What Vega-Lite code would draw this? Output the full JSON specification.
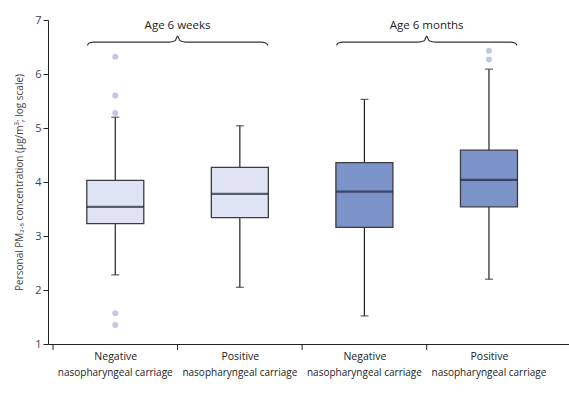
{
  "$schema": "https://vega.github.io/schema/vega-lite/v6.json",
  "width": 521,
  "height": 324,
  "autosize": {"type": "none"},
  "padding": {"left": 48, "top": 20, "right": 0, "bottom": 50},
  "config": {"view": {"stroke": null}, "font": "Open Sans"},
  "datasets": {
    "boxes": [
      {"pos": 1, "age": "6w", "lower": 2.28, "q1": 3.23, "median": 3.54, "q3": 4.03, "upper": 5.2, "line2": "nasopharyngeal carriage"},
      {"pos": 2, "age": "6w", "lower": 2.05, "q1": 3.34, "median": 3.78, "q3": 4.27, "upper": 5.04, "line2": "nasopharyngeal carriage"},
      {"pos": 3, "age": "6m", "lower": 1.52, "q1": 3.16, "median": 3.82, "q3": 4.36, "upper": 5.53, "line2": "nasopharyngeal carriage"},
      {"pos": 4, "age": "6m", "lower": 2.2, "q1": 3.54, "median": 4.04, "q3": 4.59, "upper": 6.09, "line2": "nasopharyngeal carriage"}
    ],
    "outliers": [
      {"pos": 1, "v": 6.32},
      {"pos": 1, "v": 5.6},
      {"pos": 1, "v": 5.28},
      {"pos": 1, "v": 1.57},
      {"pos": 1, "v": 1.35},
      {"pos": 4, "v": 6.43},
      {"pos": 4, "v": 6.27}
    ],
    "bounds": [
      {"pos": 0.5}, {"pos": 1.5}, {"pos": 2.5}, {"pos": 3.5}
    ],
    "brace": [
      {"age": "6w", "pos": 0.776, "by": 6.53},
      {"age": "6w", "pos": 0.79, "by": 6.575},
      {"age": "6w", "pos": 0.83, "by": 6.59},
      {"age": "6w", "pos": 1.43, "by": 6.59},
      {"age": "6w", "pos": 1.48, "by": 6.615},
      {"age": "6w", "pos": 1.5, "by": 6.7},
      {"age": "6w", "pos": 1.52, "by": 6.615},
      {"age": "6w", "pos": 1.57, "by": 6.59},
      {"age": "6w", "pos": 2.17, "by": 6.59},
      {"age": "6w", "pos": 2.21, "by": 6.575},
      {"age": "6w", "pos": 2.224, "by": 6.53},
      {"age": "6m", "pos": 2.776, "by": 6.53},
      {"age": "6m", "pos": 2.79, "by": 6.575},
      {"age": "6m", "pos": 2.83, "by": 6.59},
      {"age": "6m", "pos": 3.43, "by": 6.59},
      {"age": "6m", "pos": 3.48, "by": 6.615},
      {"age": "6m", "pos": 3.5, "by": 6.7},
      {"age": "6m", "pos": 3.52, "by": 6.615},
      {"age": "6m", "pos": 3.57, "by": 6.59},
      {"age": "6m", "pos": 4.17, "by": 6.59},
      {"age": "6m", "pos": 4.21, "by": 6.575},
      {"age": "6m", "pos": 4.224, "by": 6.53}
    ],
    "grouplabels": [
      {"pos": 1.5, "by": 6.89, "text": "Age 6 weeks"},
      {"pos": 3.5, "by": 6.89, "text": "Age 6 months"}
    ]
  },
  "layer": [
    {
      "data": {"name": "boxes"},
      "mark": {"type": "rule", "color": "#222222", "strokeWidth": 1.2},
      "encoding": {
        "x": {
          "field": "pos",
          "type": "quantitative",
          "scale": {"domain": [0.5, 4.6024], "nice": false, "zero": false},
          "axis": {
            "title": null,
            "values": [1, 2, 3, 4],
            "labelExpr": "datum.value == 1 || datum.value == 3 ? 'Negative' : 'Positive'",
            "ticks": false,
            "labelFontSize": 10.5,
            "labelColor": "#222222",
            "labelPadding": 7,
            "labelLimit": 0,
            "labelFlush": false,
            "labelOverlap": false,
            "domainColor": "#222222",
            "grid": false
          }
        },
        "y": {"field": "lower", "type": "quantitative", "scale": {"domain": [1, 7], "nice": false, "zero": false},
          "axis": {"title": "Personal PM₂.₅ concentration (µg/m³; log scale)", "values": [1, 2, 3, 4, 5, 6, 7], "format": "d", "tickSize": 5, "labelFontSize": 11, "labelColor": "#444444", "titleFontSize": 10, "titleFontWeight": "normal", "titleColor": "#444444", "titlePadding": 10, "grid": false, "domainColor": "#222222", "tickColor": "#222222"}},
        "y2": {"field": "upper"}
      }
    },
    {
      "data": {"name": "boxes"},
      "mark": {"type": "tick", "orient": "horizontal", "color": "#222222", "size": 8, "thickness": 1.2},
      "encoding": {
        "x": {"field": "pos", "type": "quantitative"},
        "y": {"field": "lower", "type": "quantitative"}
      }
    },
    {
      "data": {"name": "boxes"},
      "mark": {"type": "tick", "orient": "horizontal", "color": "#222222", "size": 8, "thickness": 1.2},
      "encoding": {
        "x": {"field": "pos", "type": "quantitative"},
        "y": {"field": "upper", "type": "quantitative"}
      }
    },
    {
      "data": {"name": "boxes"},
      "mark": {"type": "bar", "orient": "vertical", "size": 57, "stroke": "#3c3c3c", "strokeWidth": 1.3},
      "encoding": {
        "x": {"field": "pos", "type": "quantitative"},
        "y": {"field": "q1", "type": "quantitative"},
        "y2": {"field": "q3"},
        "fill": {"field": "age", "type": "nominal", "scale": {"domain": ["6w", "6m"], "range": ["#dfe3f3", "#7b93c9"]}, "legend": null}
      }
    },
    {
      "data": {"name": "boxes"},
      "mark": {"type": "tick", "orient": "horizontal", "color": "#1d2338", "size": 57, "thickness": 2.2},
      "encoding": {
        "x": {"field": "pos", "type": "quantitative"},
        "y": {"field": "median", "type": "quantitative"}
      }
    },
    {
      "data": {"name": "boxes"},
      "mark": {"type": "text", "fontSize": 10, "color": "#222222", "baseline": "middle", "dy": 29},
      "encoding": {
        "x": {"field": "pos", "type": "quantitative"},
        "y": {"datum": 1},
        "text": {"field": "line2"}
      }
    },
    {
      "data": {"name": "bounds"},
      "mark": {"type": "rule", "color": "#222222", "strokeWidth": 1},
      "encoding": {
        "x": {"field": "pos", "type": "quantitative"},
        "y": {"datum": 1},
        "y2": {"datum": 0.889}
      }
    },
    {
      "data": {"name": "outliers"},
      "mark": {"type": "point", "filled": true, "size": 36, "color": "#c2c8e4", "opacity": 1},
      "encoding": {
        "x": {"field": "pos", "type": "quantitative"},
        "y": {"field": "v", "type": "quantitative"}
      }
    },
    {
      "data": {"name": "brace"},
      "mark": {"type": "line", "color": "#333333", "strokeWidth": 1.2, "interpolate": "monotone"},
      "encoding": {
        "x": {"field": "pos", "type": "quantitative"},
        "y": {"field": "by", "type": "quantitative"},
        "detail": {"field": "age"}
      }
    },
    {
      "data": {"name": "grouplabels"},
      "mark": {"type": "text", "fontSize": 11.5, "color": "#222222", "baseline": "middle"},
      "encoding": {
        "x": {"field": "pos", "type": "quantitative"},
        "y": {"field": "by", "type": "quantitative"},
        "text": {"field": "text"}
      }
    }
  ]
}
